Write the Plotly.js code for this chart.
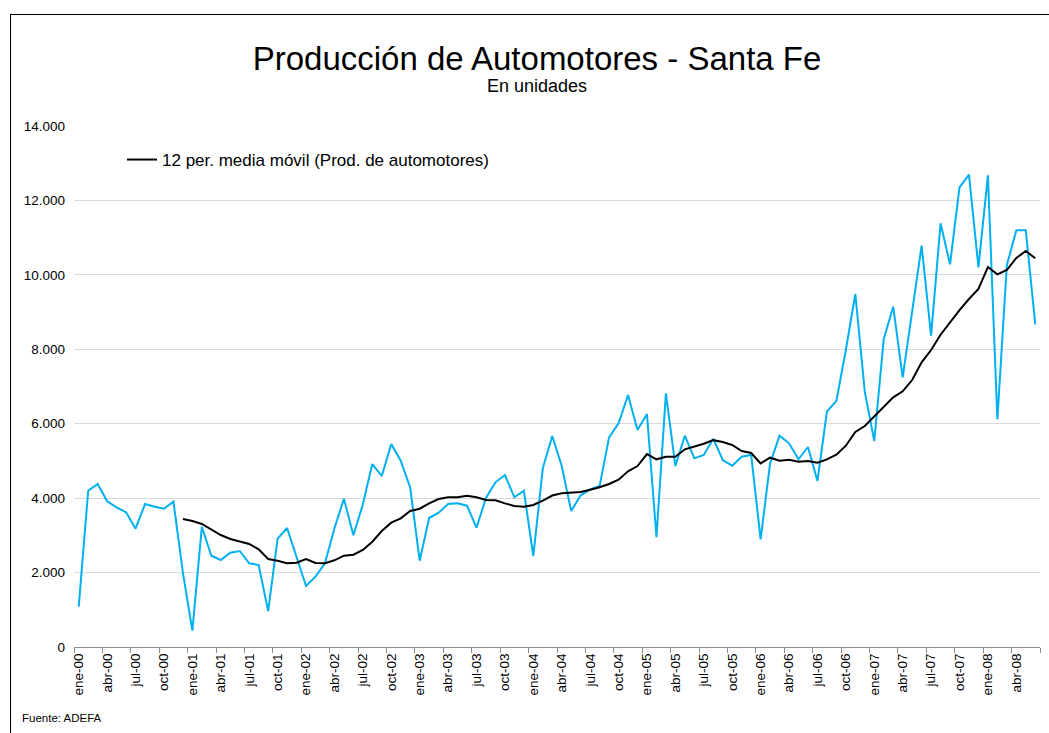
<!DOCTYPE html>
<html>
<head>
<meta charset="utf-8">
<script src="https://cdn.plot.ly/plotly-3.0.1.min.js"></script>
<style>
  html, body { margin: 0; padding: 0; background: #fff; overflow: hidden; }
  #chart { position: absolute; left: 0; top: 0; width: 1049px; height: 733px; }
  #frame { position: absolute; left: 10px; top: 14px; width: 1045px; height: 725px;
           border: 1px solid #000; pointer-events: none; }
</style>
</head>
<body>
<div id="chart"></div>
<div id="frame"></div>
<script>
const monthNames = ['ene','feb','mar','abr','may','jun','jul','ago','sep','oct','nov','dic'];
const yearLabels = ['00','01','02','03','04','05','06','07','08'];
const monthCount = 102;

const categories = [];
for (const yy of yearLabels) {
  for (const m of monthNames) {
    if (categories.length < monthCount) categories.push(m + '-' + yy);
  }
}

const production = [
  1083, 4200, 4380, 3915, 3754, 3620, 3180, 3842, 3770, 3716, 3905, 2000,
  438, 3233, 2453, 2338, 2534, 2580, 2249, 2203, 967, 2910, 3198, 2426,
  1639, 1889, 2249, 3189, 3985, 3001, 3834, 4917, 4595, 5455, 5007, 4281,
  2319, 3466, 3609, 3842, 3860, 3797, 3206, 4004, 4425, 4622, 4022, 4200,
  2445, 4801, 5670, 4863, 3654, 4076, 4237, 4326, 5634, 6011, 6771, 5831,
  6261, 2948, 6817, 4863, 5678, 5070, 5159, 5597, 5025, 4872, 5114, 5159,
  2894, 4935, 5678, 5473, 5043, 5374, 4461, 6323, 6610, 7980, 9485, 6860,
  5535, 8276, 9144, 7247, 9055, 10783, 8365, 11385, 10283, 12352, 12691, 10203,
  12674, 6118, 10264, 11197, 11197, 8671
];

const movingAverage = [
  null, null, null, null, null, null, null, null, null, null, null,
  3439, 3386, 3305, 3162, 3009, 2902, 2825, 2768, 2625, 2364,
  2319, 2249, 2265, 2364, 2257, 2249, 2330, 2453, 2480, 2606,
  2830, 3117, 3340, 3458, 3654, 3716, 3860, 3977, 4022, 4022,
  4066, 4022, 3950, 3941, 3860, 3789, 3770, 3815, 3932, 4070,
  4134, 4157, 4165, 4227, 4291, 4380, 4496, 4721, 4863, 5186,
  5043, 5114, 5114, 5312, 5383, 5463, 5558, 5508, 5428, 5267,
  5213, 4935, 5087, 5006, 5033, 4979, 4998, 4952, 5043, 5168,
  5409, 5777, 5938, 6188, 6449, 6709, 6870, 7174, 7650, 7980,
  8392, 8725, 9055, 9351, 9620, 10211, 10014, 10130, 10453, 10641, 10444
];

const FONT = 'Liberation Sans, Arial, Helvetica, sans-serif';

const traces = [
  {
    x: categories, y: production, type: 'scatter', mode: 'lines',
    name: 'Prod. de automotores', showlegend: false,
    line: { color: '#00B0F0', width: 2 }
  },
  {
    x: categories, y: movingAverage, type: 'scatter', mode: 'lines',
    name: '12 per. media móvil (Prod. de automotores)',
    line: { color: '#000000', width: 2 }
  }
];

const layout = {
  width: 1049, height: 733,
  margin: { l: 74, r: 9, t: 126, b: 86, pad: 0 },
  paper_bgcolor: '#ffffff', plot_bgcolor: '#ffffff',
  separators: ',.',
  font: { family: FONT, size: 13, color: '#000' },
  title: {
    text: 'Producción de Automotores - Santa Fe',
    font: { family: FONT, size: 33, color: '#000' },
    x: 537 / 1049, xanchor: 'center', xref: 'container',
    y: 1 - 58 / 733, yanchor: 'middle', yref: 'container'
  },
  xaxis: {
    type: 'category', range: [-0.5, monthCount - 0.5],
    tickmode: 'linear', tick0: 0, dtick: 3,
    tickson: 'boundaries',
    tickangle: -90, ticks: 'outside', ticklen: 5, tickcolor: '#8c8c8c',
    showline: true, linecolor: '#8c8c8c', linewidth: 1,
    showgrid: false, zeroline: false,
    tickfont: { family: FONT, size: 13.5, color: '#000' }
  },
  yaxis: {
    range: [0, 14000], dtick: 2000, tick0: 0,
    tickformat: ',d', ticks: '', ticklabelstandoff: 8,
    showgrid: true, gridcolor: '#d9d9d9', gridwidth: 1,
    showline: false, zeroline: false,
    tickfont: { family: FONT, size: 13.5, color: '#000' }
  },
  legend: {
    x: (122 - 74) / 966, xanchor: 'left',
    y: (647 - 160) / 521, yanchor: 'middle',
    bgcolor: 'rgba(0,0,0,0)', borderwidth: 0,
    font: { family: FONT, size: 17, color: '#000' }
  },
  annotations: [
    {
      text: 'En unidades', showarrow: false,
      xref: 'paper', yref: 'paper',
      x: (537 - 74) / 966, xanchor: 'center',
      y: (647 - 86) / 521, yanchor: 'middle',
      font: { family: FONT, size: 18, color: '#000' }
    },
    {
      text: 'Fuente: ADEFA', showarrow: false,
      xref: 'paper', yref: 'paper',
      x: (20 - 74) / 966, xanchor: 'left',
      y: (647 - 718) / 521, yanchor: 'middle',
      font: { family: FONT, size: 11.5, color: '#000' }
    }
  ],
  showlegend: true
};

Plotly.newPlot('chart', traces, layout, { displayModeBar: false, staticPlot: true });
</script>
</body>
</html>
